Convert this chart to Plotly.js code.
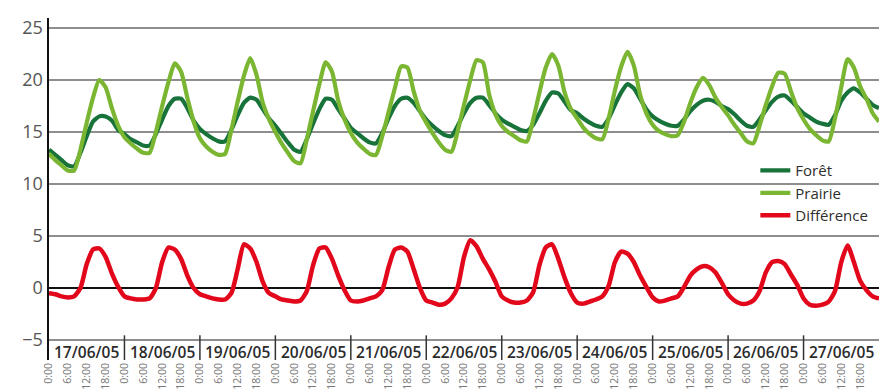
<!DOCTYPE html>
<html>
<head>
<meta charset="utf-8">
<script src="https://cdn.plot.ly/plotly-3.0.1.min.js"></script>
<style>html,body{margin:0;padding:0;background:#fff;}#chart{width:879px;height:390px;}</style>
</head>
<body>
<div id="chart"></div>
<script>
// Date labels (one per day) and time-of-day tick labels
const days = ['17/06/05','18/06/05','19/06/05','20/06/05','21/06/05','22/06/05','23/06/05','24/06/05','25/06/05','26/06/05','27/06/05'];
const timeLabels = ['0:00','6:00','12:00','18:00'];
const stepHours = 2; // one reading every 2 hours, starting 17/06/05 0:00

// Temperatures (°C), every 2 hours
const foret = [
  13.3,12.8,12.3,11.8,11.7,13.0,14.6,16.0,16.5,16.5,16.1,15.2,
  14.8,14.3,14.0,13.7,13.7,14.8,16.2,17.5,18.2,18.2,17.3,16.1,
  15.3,14.8,14.4,14.1,14.1,15.2,16.6,17.8,18.3,18.1,17.2,16.3,
  15.6,14.8,14.0,13.3,13.1,14.3,15.8,17.2,18.2,18.1,17.2,16.3,
  15.4,14.9,14.4,14.0,13.9,14.9,16.3,17.5,18.2,18.3,17.8,17.0,
  16.2,15.6,15.1,14.7,14.6,15.6,16.8,17.8,18.3,18.3,17.6,16.8,
  16.2,15.8,15.5,15.2,15.1,15.7,16.8,18.0,18.8,18.7,17.9,17.1,
  16.8,16.3,15.9,15.6,15.5,16.3,17.6,18.8,19.6,19.2,18.2,17.2,
  16.5,16.1,15.8,15.6,15.6,16.2,17.0,17.6,18.0,18.1,17.9,17.5,
  17.2,16.7,16.1,15.6,15.5,16.2,17.1,17.9,18.4,18.5,18.0,17.4,
  16.8,16.4,16.0,15.8,15.7,16.6,18.0,18.8,19.2,18.8,18.2,17.6,17.3
];
const prairie = [
  12.9,12.3,11.8,11.3,11.3,13.3,15.9,18.3,20.0,19.3,17.3,15.6,
  14.5,13.9,13.4,13.0,13.0,15.0,17.5,19.8,21.6,20.8,18.3,16.0,
  14.4,13.6,13.1,12.8,12.9,15.2,17.9,20.4,22.1,20.5,17.8,16.2,
  15.0,13.9,13.0,12.2,12.0,14.3,17.0,19.6,21.7,20.8,18.0,16.2,
  14.9,14.0,13.4,12.9,12.8,14.6,16.9,19.2,21.3,21.2,18.9,17.0,
  15.9,14.9,14.0,13.3,13.1,15.1,17.6,20.0,21.9,21.7,18.6,16.7,
  15.6,15.0,14.6,14.2,14.1,16.2,18.8,21.2,22.5,21.4,18.8,17.2,
  16.3,15.4,14.8,14.4,14.3,16.3,19.0,21.3,22.7,21.4,18.6,16.8,
  15.7,15.1,14.8,14.6,14.7,16.0,17.8,19.3,20.2,19.5,18.3,17.4,
  16.6,15.7,14.9,14.1,13.9,15.6,17.6,19.4,20.7,20.6,18.9,17.3,
  16.2,15.3,14.7,14.2,14.1,16.3,19.3,22.0,21.2,19.4,18.2,16.8,16.0
];
const difference = [
  -0.5,-0.6,-0.8,-0.9,-0.8,0.0,2.3,3.7,3.8,3.0,1.4,0.1,
  -0.8,-1.0,-1.1,-1.1,-1.0,0.0,2.5,3.9,3.7,2.8,1.2,0.0,
  -0.6,-0.8,-1.0,-1.1,-1.1,-0.5,1.8,4.2,3.8,2.5,0.6,-0.5,
  -0.8,-1.1,-1.2,-1.3,-1.2,-0.3,2.2,3.8,3.9,2.8,1.2,-0.2,
  -1.2,-1.3,-1.2,-1.0,-0.8,-0.2,2.0,3.7,3.9,3.5,1.8,0.0,
  -1.2,-1.4,-1.6,-1.5,-1.0,0.1,3.0,4.6,4.0,2.8,1.8,0.6,
  -0.8,-1.2,-1.4,-1.4,-1.2,-0.4,2.2,3.9,4.2,2.8,1.0,-0.5,
  -1.4,-1.5,-1.3,-1.1,-0.8,0.2,2.5,3.5,3.3,2.5,1.2,0.1,
  -0.9,-1.3,-1.2,-1.0,-0.8,0.1,1.2,1.8,2.1,2.0,1.5,0.5,
  -0.6,-1.2,-1.5,-1.5,-1.2,-0.3,1.5,2.5,2.6,2.3,1.3,0.3,
  -1.0,-1.6,-1.7,-1.6,-1.3,-0.3,2.5,4.1,2.5,0.7,-0.2,-0.8,-1.0
];
const yTicks = [-5,0,5,10,15,20,25];

const hours = foret.map((_, i) => i * stepHours);
const totalHours = days.length * 24;

const lineShape = {shape: 'spline', smoothing: 0.6};
const traces = [
  {x: hours, y: foret, name: 'Forêt', type: 'scatter', mode: 'lines', line: Object.assign({color: '#18733a', width: 4.2}, lineShape)},
  {x: hours, y: prairie, name: 'Prairie', type: 'scatter', mode: 'lines', line: Object.assign({color: '#7ab632', width: 4.2}, lineShape)},
  {x: hours, y: difference, name: 'Différence', type: 'scatter', mode: 'lines', line: Object.assign({color: '#e2071b', width: 4.5}, lineShape)}
];

const tickvals = [], ticktext = [];
for (let h = 0, k = 0; h <= totalHours; h += 6, k++) { tickvals.push(h); ticktext.push(timeLabels[k % 4]); }

const yMin = -6.92, yMax = 25.96;
const annotations = days.map((d, i) => ({
  x: i * 24 + 12, y: -6.15, xref: 'x', yref: 'y', text: d, showarrow: false,
  font: {family: 'Open Sans', size: 15.5, color: '#2b2b2b', weight: 600}, xanchor: 'center', yanchor: 'middle'
}));
const shapes = [];
for (let i = 1; i < days.length; i++) {
  shapes.push({type: 'line', xref: 'x', yref: 'y', x0: i * 24, x1: i * 24, y0: -4.55, y1: yMin,
    line: {color: '#333', width: 1.5}, layer: 'above'});
}
// white legend backdrop interrupting the grid
shapes.push({type: 'rect', xref: 'paper', yref: 'paper', x0: 0.8265, x1: 1.0, y0: 0.40, y1: 0.60,
  fillcolor: '#fff', line: {width: 0}, layer: 'between'});

const layout = {
  width: 879, height: 390,
  margin: {l: 49, r: 0, t: 18, b: 30, pad: 0},
  paper_bgcolor: '#fff', plot_bgcolor: '#fff',
  font: {family: 'Open Sans', color: '#444'},
  showlegend: true,
  legend: {x: 0.851, y: 0.602, xanchor: 'left', yanchor: 'top', bgcolor: 'rgba(0,0,0,0)',
    font: {family: 'Open Sans', size: 15, color: '#2e2e2e', weight: 500}},
  xaxis: {range: [0, totalHours], tickmode: 'array', tickvals: tickvals, ticktext: ticktext,
    tickangle: -90, tickfont: {size: 10.5, color: '#777'}, showgrid: false, zeroline: false,
    showline: false, ticks: '', fixedrange: true},
  yaxis: {range: [yMin, yMax], tickmode: 'array', tickvals: yTicks, showgrid: true,
    gridcolor: '#8e8e8e', gridwidth: 1.3, zeroline: true, zerolinecolor: '#111', zerolinewidth: 2,
    showline: true, linecolor: '#111', linewidth: 2.5, ticks: '', tickfont: {size: 18, color: '#555'}, fixedrange: true},
  annotations: annotations,
  shapes: shapes
};

Plotly.newPlot('chart', traces, layout, {displayModeBar: false, staticPlot: true});
</script>
</body>
</html>
